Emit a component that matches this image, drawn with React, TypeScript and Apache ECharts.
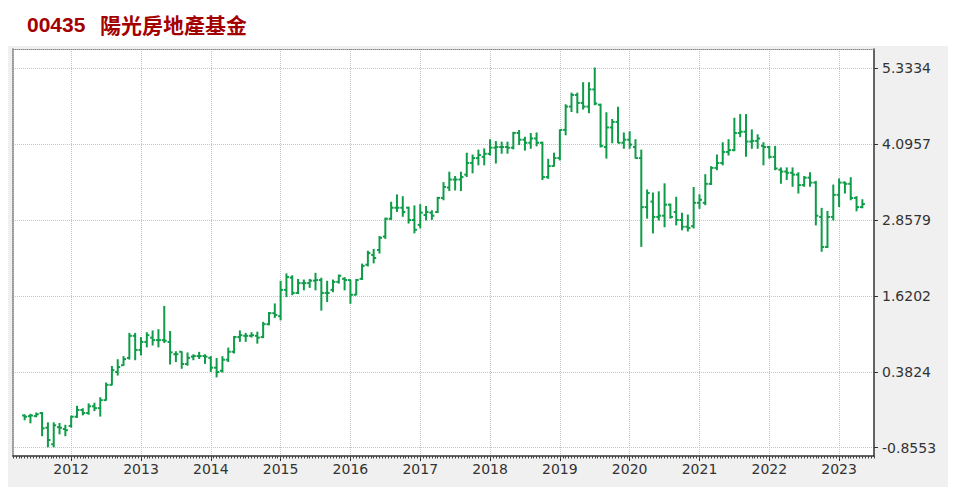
import React, { useEffect, useRef } from "react";
import * as echarts from "echarts";

const TITLE_CODE = "00435";
const TITLE_NAME = "陽光房地產基金";

// monthly bars, first bar = May 2011 (axis unit: months since Jan 2011)
const FIRST_YEAR = 2011;
const FIRST_MONTH = 5;

const yearTicks = [2012, 2013, 2014, 2015, 2016, 2017, 2018, 2019, 2020, 2021, 2022, 2023];
const priceTicks = [-0.8553, 0.3824, 1.6202, 2.8579, 4.0957, 5.3334];

const opens = [
  -0.33, -0.34, -0.34, -0.29, -0.53, -0.8, -0.52, -0.55, -0.5, -0.35,
  -0.24, -0.29, -0.18, -0.21, -0.08, 0.17, 0.38, 0.49, 0.61, 0.97,
  0.74, 0.87, 0.94, 0.9, 0.9, 0.87, 0.67, 0.71, 0.51, 0.63,
  0.64, 0.64, 0.61, 0.45, 0.4, 0.58, 0.71, 0.95, 0.97, 0.97,
  0.97, 0.95, 1.16, 1.34, 1.29, 1.72, 1.92, 1.67, 1.83, 1.83,
  1.87, 1.88, 1.67, 1.72, 1.85, 1.9, 1.88, 1.64, 1.9, 2.13,
  2.29, 2.37, 2.59, 2.88, 3.06, 3.06, 3.06, 2.86, 2.78, 2.94,
  2.98, 2.99, 3.22, 3.39, 3.52, 3.52, 3.6, 3.79, 3.87, 3.89,
  3.94, 4.04, 4.05, 4.05, 4.04, 4.28, 4.17, 4.12, 4.19, 4.12,
  3.56, 3.74, 3.87, 4.33, 4.71, 4.9, 4.77, 4.71, 4.99, 4.74,
  4.05, 4.37, 4.46, 4.12, 4.17, 4.05, 3.87, 3.07, 3.16, 2.91,
  2.93, 3.11, 2.99, 2.86, 2.75, 2.76, 3.14, 3.14, 3.45, 3.71,
  3.79, 3.97, 4.0, 4.28, 4.3, 4.14, 4.15, 4.07, 4.05, 3.89,
  3.68, 3.65, 3.63, 3.6, 3.43, 3.55, 3.47, 2.91, 2.42, 2.91,
  3.27, 3.47, 3.45, 3.22, 3.07,
];
const highs = [
  -0.32, -0.31, -0.29, -0.28, -0.45, -0.45, -0.46, -0.49, -0.34, -0.18,
  -0.22, -0.14, -0.13, -0.04, 0.2, 0.47, 0.58, 0.63, 1.01, 1.01,
  0.94, 1.02, 1.05, 1.07, 1.45, 1.04, 0.71, 0.71, 0.69, 0.66,
  0.7, 0.66, 0.63, 0.6, 0.63, 0.77, 0.96, 1.05, 1.01, 1.02,
  1.03, 1.19, 1.35, 1.49, 1.86, 1.98, 1.95, 1.89, 1.88, 1.89,
  1.99, 1.91, 1.86, 1.88, 1.96, 1.92, 1.88, 1.89, 2.14, 2.35,
  2.38, 2.59, 2.89, 3.15, 3.27, 3.24, 3.07, 3.09, 3.11, 3.08,
  3.01, 3.23, 3.47, 3.64, 3.57, 3.64, 3.95, 3.92, 4.0, 4.02,
  4.17, 4.14, 4.13, 4.13, 4.29, 4.32, 4.21, 4.27, 4.28, 4.13,
  3.85, 3.95, 4.33, 4.74, 4.93, 4.93, 5.1, 5.1, 5.34, 4.75,
  4.61, 4.5, 4.7, 4.28, 4.3, 4.17, 4.0, 3.35, 3.3, 3.32,
  3.45, 3.12, 3.23, 2.97, 2.94, 3.39, 3.27, 3.6, 3.73, 3.92,
  4.12, 4.17, 4.52, 4.58, 4.58, 4.33, 4.25, 4.12, 4.06, 4.06,
  3.71, 3.71, 3.71, 3.63, 3.57, 3.63, 3.49, 3.05, 3.0, 3.43,
  3.53, 3.48, 3.55, 3.24, 3.19,
];
const lows = [
  -0.4, -0.45, -0.35, -0.66, -0.84, -0.84, -0.63, -0.66, -0.52, -0.36,
  -0.32, -0.31, -0.25, -0.34, -0.08, 0.17, 0.33, 0.49, 0.59, 0.58,
  0.66, 0.79, 0.82, 0.79, 0.86, 0.51, 0.55, 0.44, 0.49, 0.58,
  0.6, 0.52, 0.39, 0.3, 0.38, 0.55, 0.69, 0.88, 0.88, 0.95,
  0.85, 0.94, 1.15, 1.27, 1.23, 1.61, 1.64, 1.66, 1.72, 1.76,
  1.72, 1.39, 1.53, 1.69, 1.83, 1.72, 1.5, 1.64, 1.89, 2.11,
  2.16, 2.32, 2.56, 2.87, 3.0, 2.92, 2.81, 2.65, 2.73, 2.86,
  2.87, 2.98, 3.19, 3.34, 3.35, 3.34, 3.57, 3.63, 3.76, 3.76,
  3.92, 3.79, 3.95, 3.95, 4.02, 4.09, 4.0, 4.03, 4.07, 3.52,
  3.54, 3.74, 3.84, 4.25, 4.63, 4.61, 4.67, 4.61, 4.74, 4.05,
  3.87, 4.12, 4.12, 4.03, 4.03, 3.87, 2.43, 2.89, 2.65, 2.86,
  2.75, 2.89, 2.78, 2.7, 2.68, 2.73, 3.05, 3.11, 3.44, 3.68,
  3.76, 3.92, 3.99, 4.22, 3.9, 4.03, 4.03, 3.76, 3.87, 3.68,
  3.46, 3.52, 3.41, 3.3, 3.41, 3.41, 2.78, 2.35, 2.41, 2.86,
  3.08, 3.3, 3.19, 3.01, 3.06,
];
const closes = [
  -0.35, -0.33, -0.31, -0.54, -0.73, -0.49, -0.53, -0.57, -0.35, -0.24,
  -0.29, -0.18, -0.21, -0.08, 0.17, 0.41, 0.46, 0.59, 0.97, 0.74,
  0.87, 0.98, 0.9, 0.9, 0.89, 0.7, 0.67, 0.51, 0.61, 0.64,
  0.64, 0.63, 0.45, 0.38, 0.58, 0.71, 0.95, 0.98, 0.97, 0.98,
  0.94, 1.16, 1.34, 1.31, 1.72, 1.93, 1.67, 1.83, 1.83, 1.87,
  1.88, 1.67, 1.67, 1.85, 1.95, 1.88, 1.64, 1.88, 2.11, 2.32,
  2.24, 2.57, 2.88, 3.06, 3.06, 2.99, 2.86, 2.7, 2.98, 2.99,
  2.93, 3.22, 3.4, 3.52, 3.52, 3.56, 3.79, 3.87, 3.92, 3.94,
  4.04, 4.05, 4.05, 4.04, 4.28, 4.17, 4.12, 4.19, 4.12, 3.56,
  3.74, 3.87, 4.33, 4.71, 4.9, 4.77, 4.71, 4.99, 4.76, 4.07,
  4.37, 4.46, 4.12, 4.17, 4.09, 3.87, 3.07, 3.3, 2.91, 2.93,
  3.11, 2.91, 2.86, 2.75, 2.73, 3.14, 3.19, 3.45, 3.71, 3.79,
  3.97, 4.0, 4.28, 4.3, 4.14, 4.15, 4.19, 4.05, 3.89, 3.7,
  3.65, 3.63, 3.6, 3.43, 3.55, 3.47, 2.93, 2.42, 2.91, 3.27,
  3.47, 3.45, 3.22, 3.07, 3.12,
];

const GREEN = "#0e9c48";
const AXIS_MIN = 2; // months since Jan 2011
const AXIS_MAX = 150;
const Y_MIN = -0.991;
const Y_MAX = 5.65;

export default function App() {
  const ref = useRef<HTMLDivElement>(null);

  useEffect(() => {
    if (!ref.current) return;
    const chart = echarts.init(ref.current, undefined, { renderer: "svg" });
    const startIndex = (FIRST_YEAR - 2011) * 12 + (FIRST_MONTH - 1);
    const rows = opens.map((o, i) => [startIndex + i, o, closes[i], lows[i], highs[i]]);
    const yearValues = yearTicks.map((y) => (y - 2011) * 12);

    const dotted = { type: [1, 1] as number[], color: "#c4c4c4", width: 1 };
    const labelFont = { fontFamily: "DejaVu Sans", fontSize: 14, color: "#333" };

    chart.setOption({
      animation: false,
      grid: {
        left: 5,
        right: 78,
        top: 41,
        bottom: 37,
        show: true,
        backgroundColor: "#ffffff",
        borderWidth: 0,
      },
      graphic: [
        {
          type: "text",
          left: 19,
          top: 6,
          style: {
            text: TITLE_CODE,
            font: 'bold 21px "Liberation Sans", Arial, sans-serif',
            fill: "#a30000",
          },
        },
        {
          type: "text",
          left: 92,
          top: 5,
          style: {
            text: TITLE_NAME,
            font: 'bold 21px "Noto Sans CJK TC", sans-serif',
            fill: "#a30000",
          },
        },
      ],
      xAxis: [
        {
          type: "value",
          min: AXIS_MIN,
          max: AXIS_MAX,
          position: "bottom",
          axisLine: { show: true, onZero: false, lineStyle: { color: "#333", width: 1.5 } },
          axisTick: { show: true, customValues: yearValues, length: 5, lineStyle: { color: "#333" } },
          axisLabel: {
            show: true,
            customValues: yearValues,
            formatter: (v: number) => String(2011 + Math.round(v / 12)),
            margin: 6,
            ...labelFont,
          },
          splitLine: { show: true, lineStyle: dotted },
        },
        {
          type: "value",
          min: AXIS_MIN,
          max: AXIS_MAX,
          interval: 0.5,
          position: "bottom",
          axisLine: { show: false, onZero: false },
          axisTick: { show: true, length: 2.5, lineStyle: { color: "#444", width: 1 } },
          axisLabel: { show: false },
          splitLine: { show: false },
        },
        {
          type: "value",
          min: AXIS_MIN,
          max: AXIS_MAX,
          position: "top",
          axisLine: { show: true, onZero: false, lineStyle: { color: "#888", type: [1, 1], width: 1 } },
          axisTick: { show: false },
          axisLabel: { show: false },
          splitLine: { show: false },
        },
      ],
      yAxis: [
        {
          type: "value",
          position: "right",
          min: Y_MIN,
          max: Y_MAX,
          axisLine: { show: true, onZero: false, lineStyle: { color: "#333", width: 1.5 } },
          axisTick: { show: true, customValues: priceTicks, length: 4, lineStyle: { color: "#333" } },
          axisLabel: {
            show: true,
            customValues: priceTicks,
            formatter: (v: number) => v.toFixed(4),
            margin: 8,
            ...labelFont,
          },
          splitLine: { show: true, lineStyle: dotted },
        },
        {
          type: "value",
          position: "left",
          min: Y_MIN,
          max: Y_MAX,
          axisLine: { show: true, onZero: false, lineStyle: { color: "#777", type: [1, 1], width: 1.5 } },
          axisTick: { show: false },
          axisLabel: { show: false },
          splitLine: { show: false },
        },
      ],
      series: [
        {
          type: "custom",
          xAxisIndex: 0,
          yAxisIndex: 0,
          clip: true,
          encode: { x: 0, y: [1, 2, 3, 4] },
          data: rows,
          renderItem: (params: any, api: any) => {
            const x = api.value(0);
            const o = api.coord([x, api.value(1)]);
            const c = api.coord([x, api.value(2)]);
            const l = api.coord([x, api.value(3)]);
            const h = api.coord([x, api.value(4)]);
            const style = { stroke: GREEN, lineWidth: 2 };
            return {
              type: "group",
              children: [
                { type: "line", shape: { x1: h[0], y1: h[1] - 0.5, x2: l[0], y2: l[1] + 0.5 }, style },
                { type: "line", shape: { x1: o[0] - 2.5, y1: o[1], x2: o[0], y2: o[1] }, style },
                { type: "line", shape: { x1: c[0], y1: c[1], x2: c[0] + 2.5, y2: c[1] }, style },
              ],
            };
          },
        },
      ],
    });
    return () => chart.dispose();
  }, []);

  return (
    <div style={{ position: "relative", width: 944, height: 485 }}>
      <div
        style={{
          position: "absolute",
          left: 0,
          top: 38,
          width: 940,
          height: 441,
          background: "#f0f0f0",
        }}
      />
      <div ref={ref} style={{ position: "absolute", left: 0, top: 0, width: 944, height: 485 }} />
    </div>
  );
}
